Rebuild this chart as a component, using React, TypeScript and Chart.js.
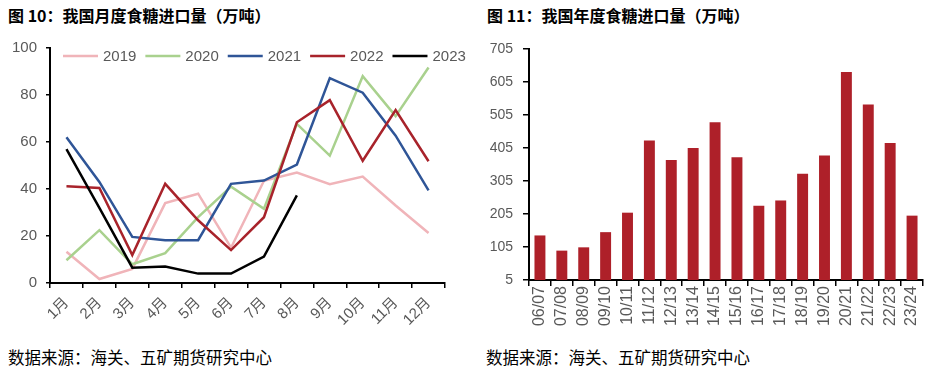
import React, { useEffect, useRef } from "react";
import { Chart, registerables } from "chart.js";

Chart.register(...registerables);

const months = ["1月", "2月", "3月", "4月", "5月", "6月", "7月", "8月", "9月", "10月", "11月", "12月"];
const years = ["2019", "2020", "2021", "2022", "2023"];
const v2019 = [13.3, 1.7, 6, 34, 38, 15, 43.5, 47, 42, 45.3, 33, 21.3];
const v2020 = [9.7, 22.5, 8, 12.7, 28, 41, 31.6, 67.7, 54.2, 88, 71, 91.7];
const v2021 = [62, 43, 19.6, 18.2, 18.2, 42.2, 43.6, 50.4, 87.2, 81, 62.7, 39.4];
const v2022 = [41.2, 40.4, 11.9, 42.2, 26.7, 14, 28, 68.4, 77.8, 52, 73.6, 51.8];
const v2023 = [57, 32, 6.5, 7, 4, 4, 11.2, 37.3];
const lineColors = ["#F0B4B9", "#A9D18E", "#2F5597", "#A8232B", "#000000"];

const seasons = ["06/07", "07/08", "08/09", "09/10", "10/11", "11/12", "12/13", "13/14", "14/15", "15/16", "16/17", "17/18", "18/19", "19/20", "20/21", "21/22", "22/23", "23/24"];
const imports = [140, 94, 104, 150, 209, 428, 369, 405, 483, 377, 230, 246, 327, 382, 635, 537, 420, 200];
const yTicksRight = [5, 105, 205, 305, 405, 505, 605, 705];

const FONT = '"Liberation Sans", "Noto Sans CJK SC", sans-serif';
const GRAY = "#595959";

const legendPlugin = {
  id: "inlineLegend",
  afterDraw(chart: any) {
    const ctx = chart.ctx;
    const area = chart.chartArea;
    let x = area.left + 13;
    const y = area.top + 8;
    ctx.save();
    ctx.font = `15px ${FONT}`;
    ctx.textBaseline = "middle";
    ctx.textAlign = "left";
    chart.data.datasets.forEach((ds: any) => {
      ctx.strokeStyle = ds.borderColor;
      ctx.lineWidth = 2.5;
      ctx.beginPath();
      ctx.moveTo(x, y);
      ctx.lineTo(x + 35, y);
      ctx.stroke();
      x += 40;
      ctx.fillStyle = GRAY;
      ctx.fillText(ds.label, x, y + 1);
      x += ctx.measureText(ds.label).width + 9;
    });
    ctx.restore();
  },
};

export default function App() {
  const leftRef = useRef<HTMLCanvasElement>(null);
  const rightRef = useRef<HTMLCanvasElement>(null);

  useEffect(() => {
    const series = [v2019, v2020, v2021, v2022, v2023];
    const c1 = new Chart(leftRef.current!, {
      type: "line",
      data: {
        labels: months,
        datasets: series.map((d, i) => ({
          label: years[i],
          data: d,
          borderColor: lineColors[i],
          backgroundColor: lineColors[i],
          borderWidth: 2.5,
          pointRadius: 0,
          tension: 0,
          order: 5 - i,
        })),
      },
      options: {
        responsive: false,
        animation: false,
        layout: { padding: { top: 17, right: 25, left: 0, bottom: 0 } },
        plugins: { legend: { display: false }, tooltip: { enabled: false } },
        scales: {
          x: {
            offset: true,
            grid: { offset: true, drawOnChartArea: false, drawTicks: true, tickLength: 5, color: "#000", lineWidth: 1.5 },
            border: { color: "#000", width: 2 },
            ticks: { autoSkip: false, minRotation: 45, maxRotation: 45, padding: 6, color: GRAY, font: { size: 15, family: FONT } },
            afterFit(s: any) { s.height = 57; },
          },
          y: {
            min: 0,
            max: 100,
            ticks: { stepSize: 20, padding: 9, color: GRAY, font: { size: 15, family: FONT } },
            grid: { drawOnChartArea: false, drawTicks: true, tickLength: 4, color: "#000", lineWidth: 1.5 },
            border: { color: "#000", width: 2 },
            afterFit(s: any) { s.width = 50; },
          },
        },
      },
      plugins: [legendPlugin],
    } as any);

    const c2 = new Chart(rightRef.current!, {
      type: "bar",
      data: {
        labels: seasons,
        datasets: [{ label: "进口量", data: imports, backgroundColor: "#AE2029", barPercentage: 0.5, categoryPercentage: 1 }],
      },
      options: {
        responsive: false,
        animation: false,
        layout: { padding: { top: 19, right: 9, left: 0, bottom: 0 } },
        plugins: { legend: { display: false }, tooltip: { enabled: false } },
        scales: {
          x: {
            grid: { offset: true, drawOnChartArea: false, drawTicks: true, tickLength: 6, color: "#000", lineWidth: 1.5 },
            border: { color: "#000", width: 2 },
            ticks: { autoSkip: false, minRotation: 90, maxRotation: 90, padding: 0, color: GRAY, font: { size: 16, family: FONT } },
            afterFit(s: any) { s.height = 60; },
          },
          y: {
            min: 5,
            max: 705,
            afterBuildTicks(s: any) { s.ticks = yTicksRight.map((v) => ({ value: v })); },
            ticks: { padding: 10, color: GRAY, font: { size: 14, family: FONT } },
            grid: { drawOnChartArea: false, drawTicks: true, tickLength: 6, color: "#000", lineWidth: 1.5 },
            border: { color: "#000", width: 2 },
            afterFit(s: any) { s.width = 49; },
          },
        },
      },
    } as any);

    return () => {
      c1.destroy();
      c2.destroy();
    };
  }, []);

  const titleStyle: React.CSSProperties = {
    position: "absolute",
    top: 5,
    font: 'bold 16px "Noto Sans CJK SC", sans-serif',
    color: "#000",
    whiteSpace: "nowrap",
    lineHeight: "20px",
  };
  const srcStyle: React.CSSProperties = {
    position: "absolute",
    top: 346,
    font: '16.5px "Noto Sans CJK SC", sans-serif',
    color: "#000",
    whiteSpace: "nowrap",
    lineHeight: "22px",
  };

  return (
    <div style={{ position: "fixed", left: 0, top: 0, width: 932, height: 381, background: "#fff", overflow: "hidden" }}>
      <div style={{ ...titleStyle, left: 8 }}>图 10：我国月度食糖进口量（万吨）</div>
      <div style={{ ...titleStyle, left: 487 }}>图 11：我国年度食糖进口量（万吨）</div>
      <canvas ref={leftRef} width={470} height={310} style={{ position: "absolute", left: 0, top: 30 }} />
      <canvas ref={rightRef} width={452} height={310} style={{ position: "absolute", left: 480, top: 30 }} />
      <div style={{ ...srcStyle, left: 8 }}>数据来源：海关、五矿期货研究中心</div>
      <div style={{ ...srcStyle, left: 486 }}>数据来源：海关、五矿期货研究中心</div>
    </div>
  );
}
